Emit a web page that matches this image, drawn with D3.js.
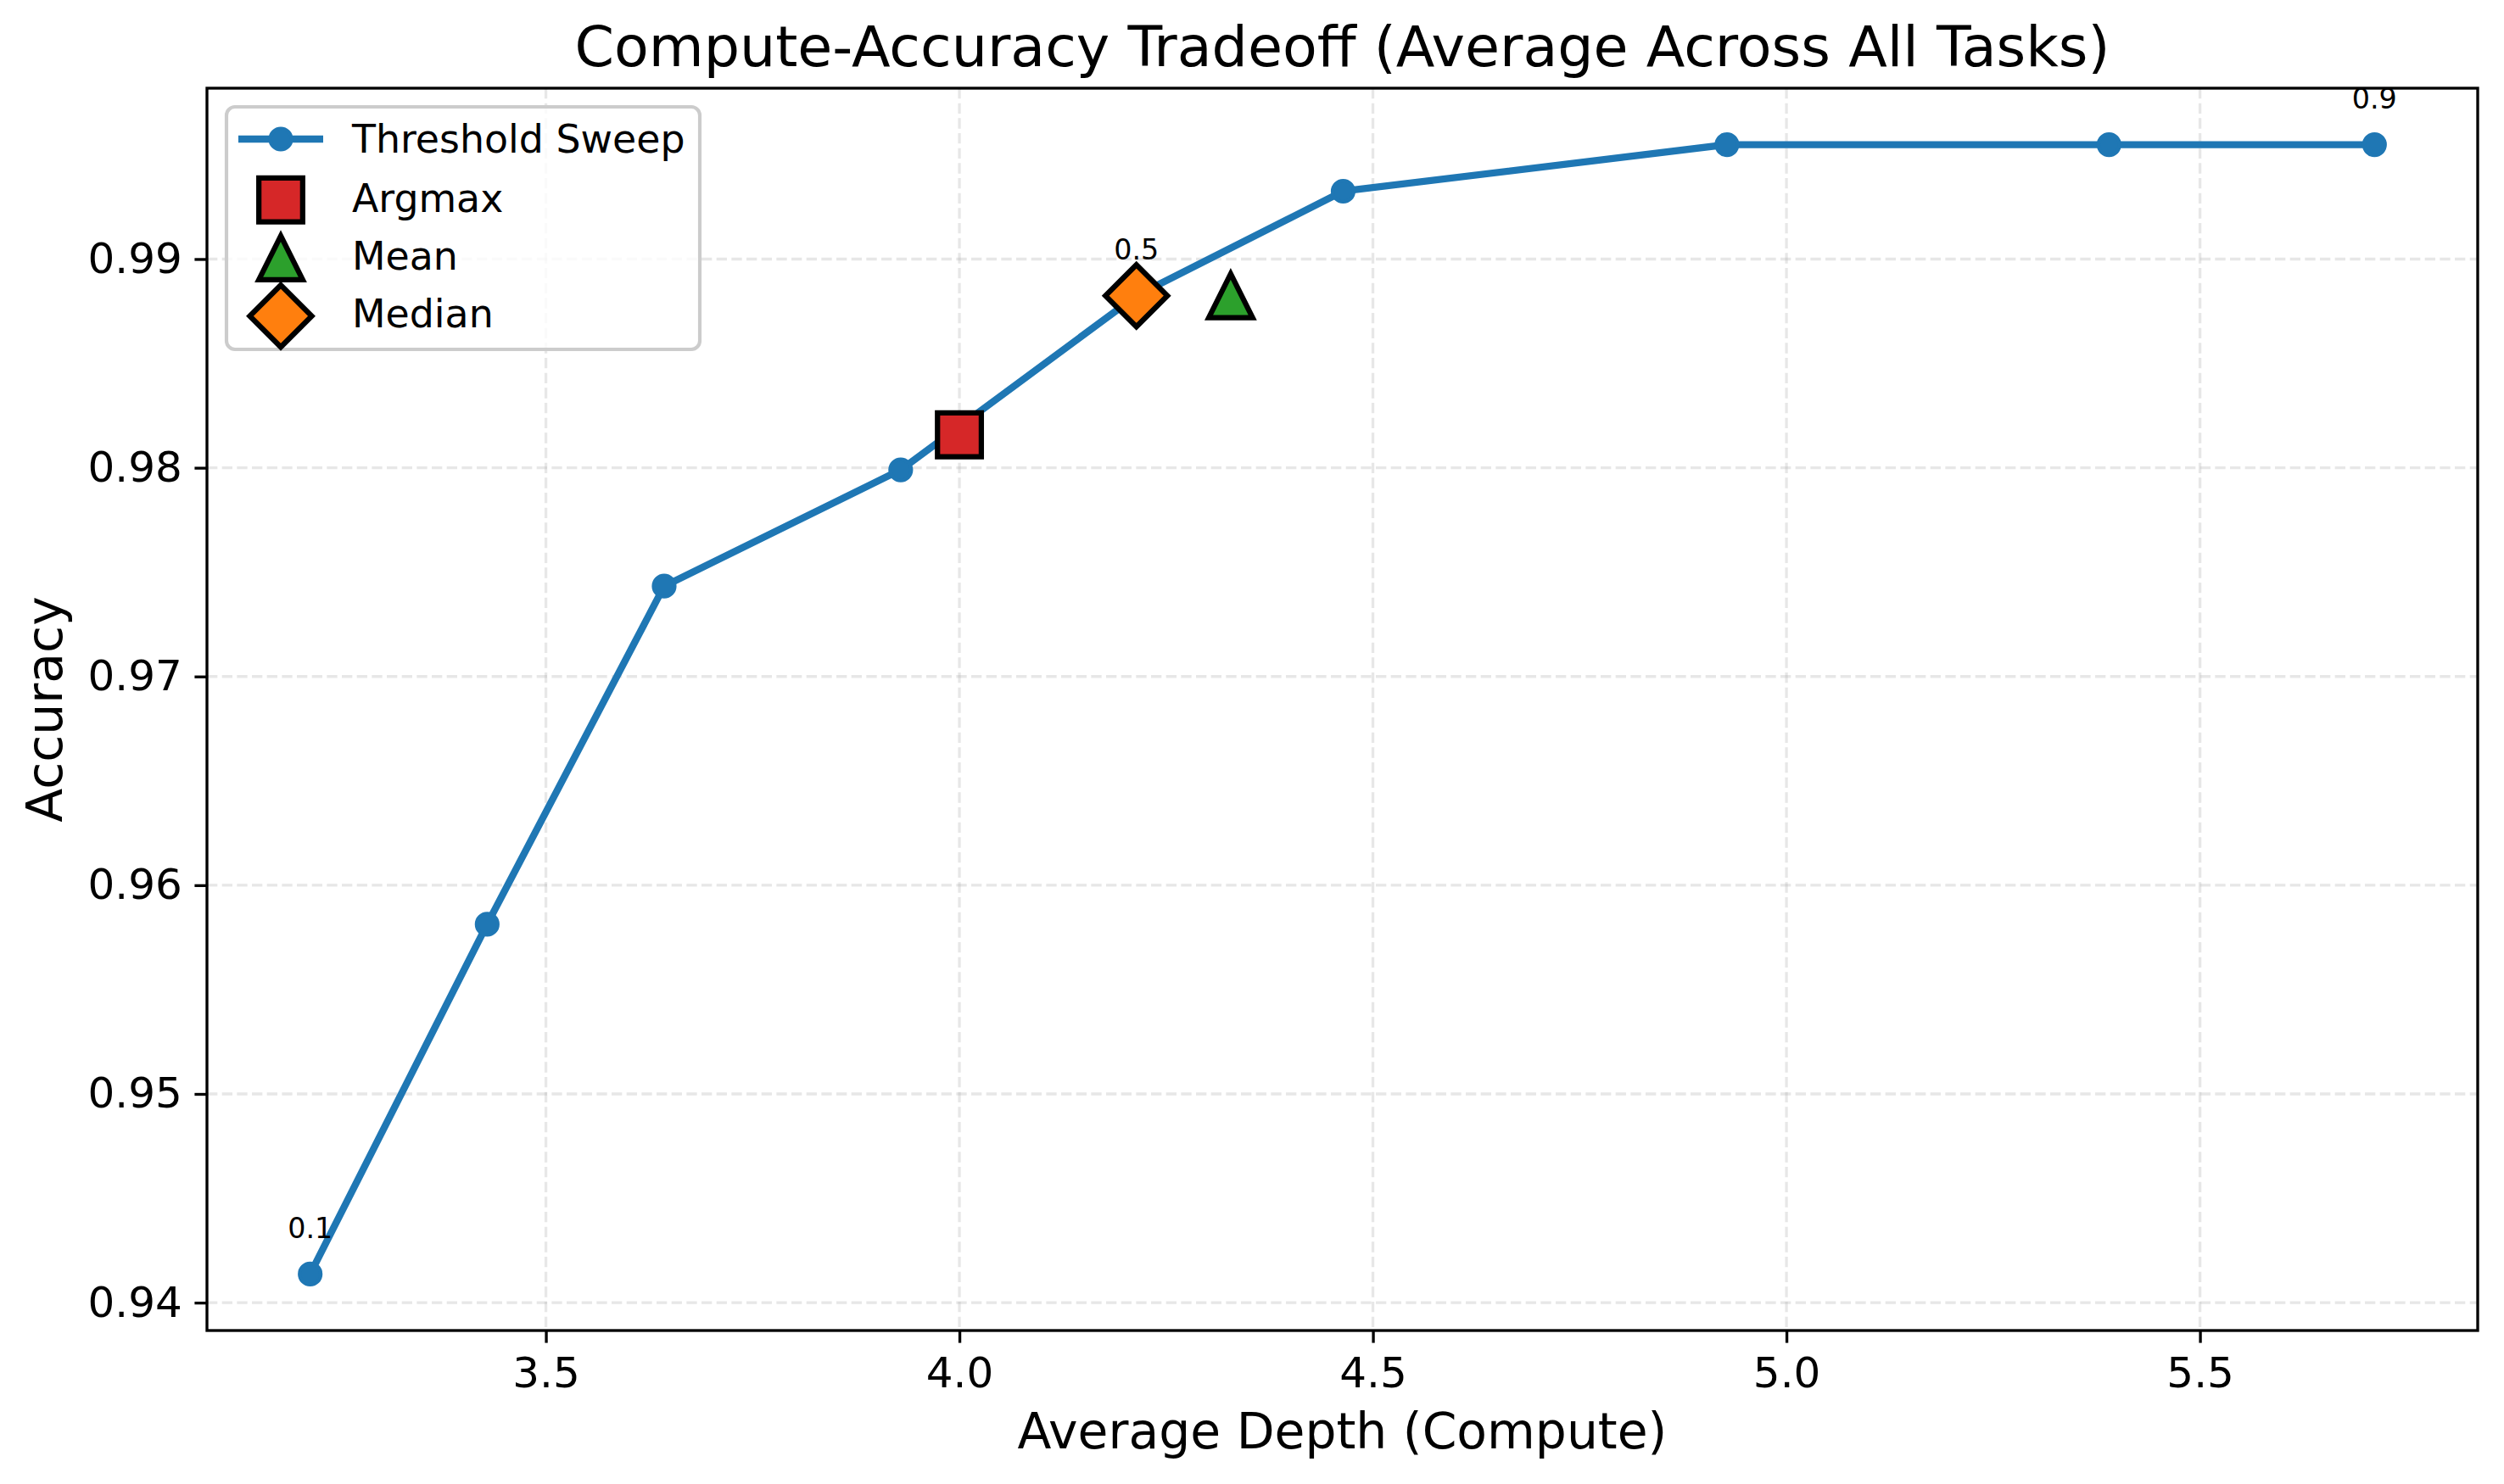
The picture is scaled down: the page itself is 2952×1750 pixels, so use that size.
<!DOCTYPE html>
<html>
<head>
<meta charset="utf-8">
<script src="https://cdn.jsdelivr.net/npm/d3@7"></script>
<style>
  html, body { margin: 0; padding: 0; background: #ffffff; }
  svg { display: block; }
  text { font-family: "DejaVu Sans", sans-serif; }
</style>
</head>
<body>
<svg id="chart" width="2952" height="1750"></svg>
<script>
// ---- data ----
const thresholds = [0.1, 0.2, 0.3, 0.4, 0.5, 0.6, 0.7, 0.8, 0.9];
const avgDepth  = [3.215, 3.429, 3.643, 3.929, 4.214, 4.464, 4.928, 5.390, 5.711];
const accuracy  = [0.94137, 0.95813, 0.97433, 0.97990, 0.98824, 0.99325, 0.99548, 0.99548, 0.99548];
const labelledThresholds = [0.1, 0.5, 0.9];

const methodNames  = ["Argmax", "Mean", "Median"];
const methodDepth  = [4.000, 4.328, 4.214];
const methodAcc    = [0.98158, 0.98824, 0.98824];
const methodColors = ["#d62728", "#2ca02c", "#ff7f0e"];
const methodShapes = ["square", "triangle", "diamond"];

const xTicks = [3.5, 4.0, 4.5, 5.0, 5.5];
const yTicks = [0.94, 0.95, 0.96, 0.97, 0.98, 0.99];

const titleText = "Compute-Accuracy Tradeoff (Average Across All Tasks)";
const xLabelText = "Average Depth (Compute)";
const yLabelText = "Accuracy";
const sweepLabel = "Threshold Sweep";

// ---- layout ----
const L = 244, R = 2921, T = 104, B = 1569;
const pt = 300 / 72;
const sweepColor = "#1f77b4";

const svg = d3.select("#chart");

const xmin = d3.min(avgDepth.concat(methodDepth)), xmax = d3.max(avgDepth.concat(methodDepth));
const ymin = d3.min(accuracy.concat(methodAcc)), ymax = d3.max(accuracy.concat(methodAcc));
const xm = (xmax - xmin) * 0.05, ym = (ymax - ymin) * 0.05;
const x = d3.scaleLinear().domain([xmin - xm, xmax + xm]).range([L, R]);
const y = d3.scaleLinear().domain([ymin - ym, ymax + ym]).range([B, T]);

// grid
const grid = svg.append("g");
grid.selectAll("line.gx").data(xTicks).join("line")
  .attr("x1", d => x(d)).attr("x2", d => x(d)).attr("y1", T).attr("y2", B)
  .attr("stroke", "#b0b0b0").attr("stroke-opacity", 0.3)
  .attr("stroke-width", 0.8 * pt).attr("stroke-dasharray", `${2.96 * pt} ${1.28 * pt}`);
grid.selectAll("line.gy").data(yTicks).join("line")
  .attr("y1", d => y(d)).attr("y2", d => y(d)).attr("x1", L).attr("x2", R)
  .attr("stroke", "#b0b0b0").attr("stroke-opacity", 0.3)
  .attr("stroke-width", 0.8 * pt).attr("stroke-dasharray", `${2.96 * pt} ${1.28 * pt}`);

// axes
const xAxis = d3.axisBottom(x).tickValues(xTicks).tickFormat(d3.format(".1f"))
  .tickSize(3.5 * pt).tickPadding(3.5 * pt);
const yAxis = d3.axisLeft(y).tickValues(yTicks).tickFormat(d3.format(".2f"))
  .tickSize(3.5 * pt).tickPadding(3.5 * pt);

const gx = svg.append("g").attr("transform", `translate(0,${B})`).call(xAxis);
const gy = svg.append("g").attr("transform", `translate(${L},0)`).call(yAxis);
[gx, gy].forEach(g => {
  g.select(".domain").remove();
  g.selectAll(".tick line").attr("stroke", "#000").attr("stroke-width", 0.8 * pt);
  g.selectAll(".tick text").attr("font-size", 12 * pt).attr("fill", "#000")
    .attr("font-family", "DejaVu Sans");
});
gx.selectAll(".tick text").attr("dy", "0.76em");

// sweep line
const pts = avgDepth.map((d, i) => ({ x: d, y: accuracy[i], t: thresholds[i] }));
const plot = svg.append("g");
plot.append("path").datum(pts)
  .attr("d", d3.line().x(d => x(d.x)).y(d => y(d.y)))
  .attr("fill", "none").attr("stroke", sweepColor).attr("stroke-width", 2 * pt)
  .attr("stroke-linejoin", "round").attr("stroke-linecap", "butt");
plot.selectAll("circle.pt").data(pts).join("circle")
  .attr("cx", d => x(d.x)).attr("cy", d => y(d.y))
  .attr("r", 3 * pt).attr("fill", sweepColor)
  .attr("stroke", sweepColor).attr("stroke-width", 1 * pt);

// marker shapes
const mSize = 12.4 * pt; // marker size in px
function shapePath(shape, s) {
  const h = s / 2;
  if (shape === "square") return `M${-h},${-h}L${h},${-h}L${h},${h}L${-h},${h}Z`;
  if (shape === "triangle") return `M0,${-h}L${h},${h}L${-h},${h}Z`;
  if (shape === "diamond") { const d = h * Math.SQRT2; return `M0,${-d}L${d},0L0,${d}L${-d},0Z`; }
}
const methods = methodNames.map((n, i) => ({ name: n, x: methodDepth[i], y: methodAcc[i], color: methodColors[i], shape: methodShapes[i] }));
plot.selectAll("path.m").data(methods).join("path")
  .attr("transform", d => `translate(${x(d.x)},${y(d.y)})`)
  .attr("d", d => shapePath(d.shape, mSize))
  .attr("fill", d => d.color).attr("stroke", "#000")
  .attr("stroke-width", 1.5 * pt).attr("stroke-linejoin", "miter");

// threshold annotations
plot.selectAll("text.ann").data(pts.filter(d => labelledThresholds.includes(d.t))).join("text")
  .attr("x", d => x(d.x)).attr("y", d => y(d.y) - 42.5)
  .attr("text-anchor", "middle").attr("font-size", 8 * pt).attr("fill", "#000")
  .text(d => d.t.toFixed(1));

// spines
svg.append("rect").attr("x", L).attr("y", T).attr("width", R - L).attr("height", B - T)
  .attr("fill", "none").attr("stroke", "#000").attr("stroke-width", 0.8 * pt);

// title & labels
svg.append("text").attr("x", (L + R) / 2).attr("y", 78).attr("text-anchor", "middle")
  .attr("font-size", 16 * pt).attr("fill", "#000").text(titleText);
svg.append("text").attr("x", (L + R) / 2).attr("y", 1708).attr("text-anchor", "middle")
  .attr("font-size", 14 * pt).attr("fill", "#000").text(xLabelText);
svg.append("text").attr("transform", `translate(73,${(T + B) / 2}) rotate(-90)`)
  .attr("text-anchor", "middle").attr("font-size", 14 * pt).attr("fill", "#000").text(yLabelText);

// legend
const lg = svg.append("g");
lg.append("rect").attr("x", 267).attr("y", 126).attr("width", 558).attr("height", 286)
  .attr("rx", 10).attr("ry", 10)
  .attr("fill", "#fff").attr("fill-opacity", 0.8)
  .attr("stroke", "#cccccc").attr("stroke-width", 1 * pt);
const legendRows = [164, 235.7, 304, 372.7];
const legendBaselines = [180.4, 249.7, 317.7, 385.5];
const hx1 = 281, hx2 = 381, hc = 331, tx = 415, fs = 11 * pt;
lg.append("line").attr("x1", hx1).attr("x2", hx2).attr("y1", legendRows[0]).attr("y2", legendRows[0])
  .attr("stroke", sweepColor).attr("stroke-width", 2 * pt);
lg.append("circle").attr("cx", hc).attr("cy", legendRows[0]).attr("r", 3 * pt)
  .attr("fill", sweepColor).attr("stroke", sweepColor).attr("stroke-width", 1 * pt);
lg.append("text").attr("x", tx).attr("y", legendBaselines[0]).attr("font-size", fs).attr("fill", "#000").text(sweepLabel);
methods.forEach((m, i) => {
  const cy = legendRows[i + 1];
  lg.append("path").attr("transform", `translate(${hc},${cy})`)
    .attr("d", shapePath(m.shape, mSize))
    .attr("fill", m.color).attr("stroke", "#000").attr("stroke-width", 1.5 * pt).attr("stroke-linejoin", "miter");
  lg.append("text").attr("x", tx).attr("y", legendBaselines[i + 1]).attr("font-size", fs).attr("fill", "#000").text(m.name);
});
</script>
</body>
</html>
